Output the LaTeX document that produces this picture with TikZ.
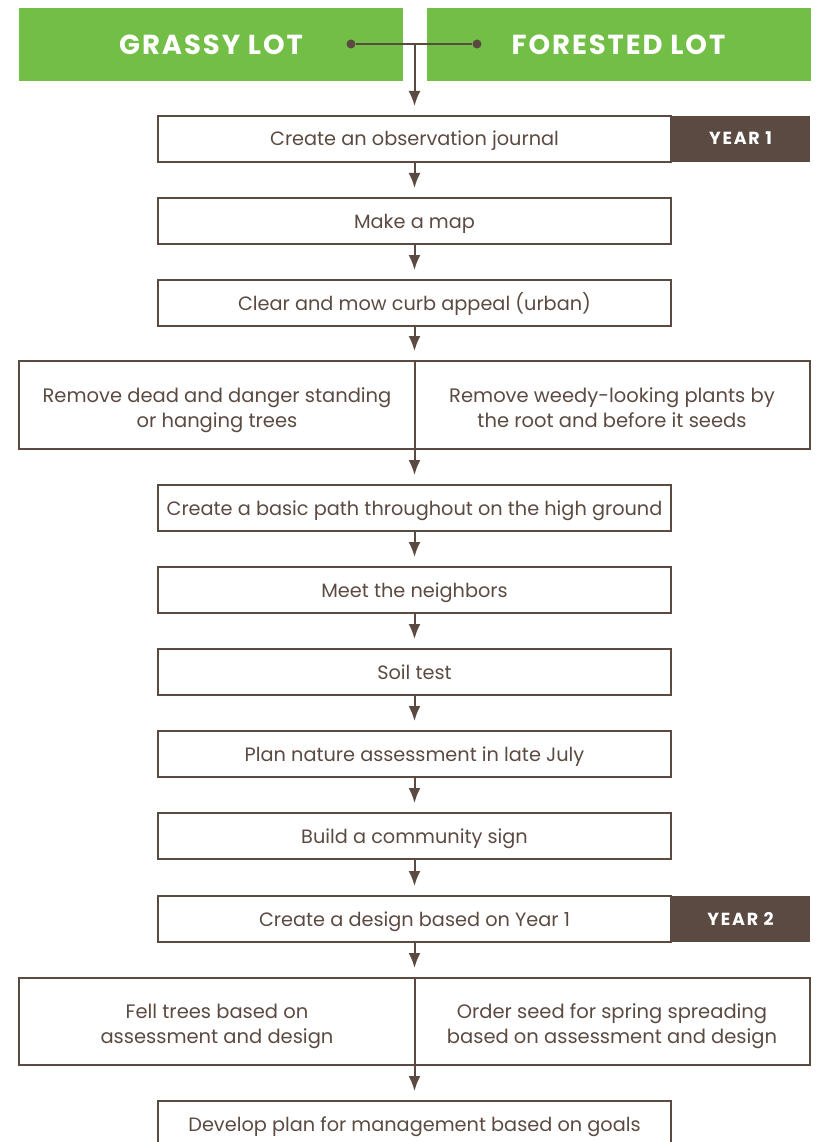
\documentclass[tikz,border=0pt]{standalone}
\usepackage{fontspec}
\setmainfont{Poppins}
\usetikzlibrary{arrows.meta}

\definecolor{lotgreen}{HTML}{72BE46}
\definecolor{bark}{HTML}{5B4A41}

\begin{document}
\begin{tikzpicture}[x=1pt,y=-1pt,
    stepbox/.style={draw=bark,line width=2pt,minimum width=513pt,minimum height=46pt,
      inner sep=0pt,text height=16pt,text depth=2pt,text=bark,font=\fontsize{19.3}{23}\selectfont},
    splitbox/.style={draw=bark,line width=2pt,minimum width=791pt,minimum height=88pt,inner sep=0pt},
    splittext/.style={text=bark,align=center,inner sep=0pt,text height=46pt,text depth=2pt,
      font=\fontsize{19.5}{25}\selectfont},
    lotbox/.style={fill=lotgreen,minimum width=384pt,minimum height=73pt,inner sep=0pt,
      text height=20pt,text depth=0pt,text=white,
      font=\fontsize{27.5}{30}\selectfont\bfseries\addfontfeatures{LetterSpace=7}},
    yearbox/.style={fill=bark,minimum width=139pt,minimum height=46pt,inner sep=0pt,
      text height=12pt,text depth=0pt,text=white,
      font=\fontsize{17.5}{20}\selectfont\bfseries\addfontfeatures{LetterSpace=10}},
    dot/.style={circle,fill=bark,inner sep=0pt,minimum size=9pt},
    flow/.style={draw=bark,line width=2pt,-{Latex[length=15pt,width=12pt]},shorten >=9pt}]

    \useasboundingbox (0,0) rectangle (815,1142);

    % the two kinds of lot
    \node[lotbox] (grassy) at (211,44.5) {GRASSY LOT};
    \node[lotbox] (forested) at (618.5,44.5) {FORESTED LOT};
    \node[dot] (grassdot) at (351,44) {};
    \node[dot] (forestdot) at (477,44) {};
    \coordinate (tee) at (414.5,44);

    % year 1
    \node[stepbox] (journal) at (414.5,139) {Create an observation journal};
    \node[yearbox] (year1) at (740.5,139) {YEAR 1};
    \node[stepbox] (map) at (414.5,221) {Make a map};
    \node[stepbox] (curb) at (414.5,303) {Clear and mow curb appeal (urban)};
    \node[splitbox] (remove) at (414.5,405) {};
    \node[splittext] (deadtrees) at (217,405) {Remove dead and danger standing\\or hanging trees};
    \node[splittext] (weeds) at (612,405) {Remove weedy-looking plants by\\the root and before it seeds};
    \node[stepbox] (path) at (414.5,508) {Create a basic path throughout on the high ground};
    \node[stepbox] (neighbors) at (414.5,590) {Meet the neighbors};
    \node[stepbox] (soil) at (414.5,672) {Soil test};
    \node[stepbox] (assess) at (414.5,754) {Plan nature assessment in late July};
    \node[stepbox] (sign) at (414.5,836) {Build a community sign};

    % year 2
    \node[stepbox] (design) at (414.5,919) {Create a design based on Year 1};
    \node[yearbox] (year2) at (740.5,919) {YEAR 2};
    \node[splitbox,minimum height=87pt] (fell) at (414.5,1021.5) {};
    \node[splittext] (felltrees) at (217,1021.5) {Fell trees based on\\assessment and design};
    \node[splittext] (seed) at (612,1021.5) {Order seed for spring spreading\\based on assessment and design};
    \node[stepbox] (manage) at (414.5,1124) {Develop plan for management based on goals};

    \draw[bark,line width=2pt] (grassdot) -- (forestdot);
    \draw[flow] (tee) -- (journal.north);
    \draw[flow] (journal) -- (map);
    \draw[flow] (map) -- (curb);
    \draw[flow] (curb) -- (remove);
    \draw[flow] (remove.north) -- (path.north);
    \draw[flow] (path) -- (neighbors);
    \draw[flow] (neighbors) -- (soil);
    \draw[flow] (soil) -- (assess);
    \draw[flow] (assess) -- (sign);
    \draw[flow] (sign) -- (design);
    \draw[flow] (design) -- (fell);
    \draw[flow] (fell.north) -- (manage.north);
\end{tikzpicture}
\end{document}
